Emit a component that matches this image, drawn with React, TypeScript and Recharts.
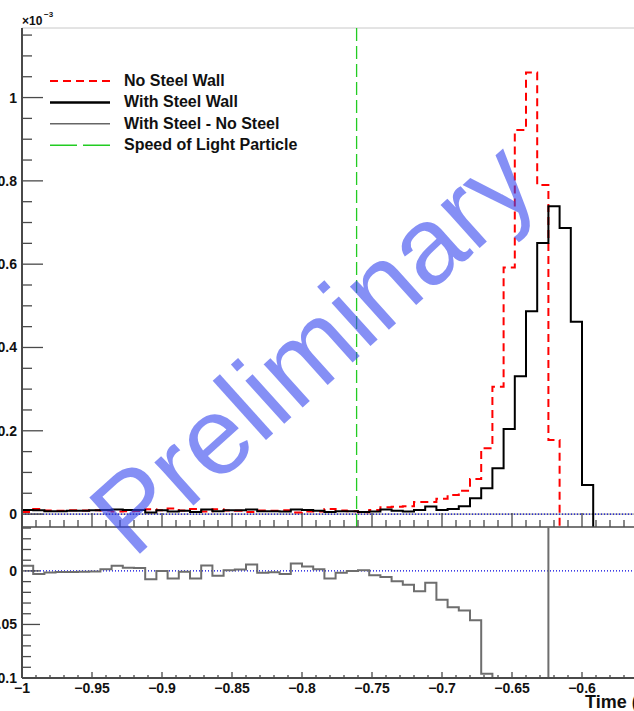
import React from "react";
import { ComposedChart, Line, XAxis, YAxis, ReferenceLine } from "recharts";

// low edge of each 0.008 bin
const BIN_EDGES = [
  -1, -0.992, -0.984, -0.976, -0.968, -0.96, -0.952, -0.944, -0.936, -0.928,
  -0.92, -0.912, -0.904, -0.896, -0.888, -0.88, -0.872, -0.864, -0.856, -0.848,
  -0.84, -0.832, -0.824, -0.816, -0.808, -0.8, -0.792, -0.784, -0.776, -0.768,
  -0.76, -0.752, -0.744, -0.736, -0.728, -0.72, -0.712, -0.704, -0.696, -0.688,
  -0.68, -0.672, -0.664, -0.656, -0.648, -0.64, -0.632, -0.624, -0.616, -0.608,
  -0.6, -0.592,
];

// x10^-3
const WITH_STEEL = [
  0.01, 0.009, 0.007, 0.007, 0.008, 0.008, 0.009, 0.01, 0.011, 0.01,
  0.01, 0.004, 0.009, 0.006, 0.008, 0.005, 0.011, 0.007, 0.009, 0.009,
  0.011, 0.007, 0.007, 0.006, 0.011, 0.01, 0.008, 0.005, 0.007, 0.007,
  0.005, 0.006, 0.011, 0.008, 0.006, 0.01, 0.018, 0.01, 0.012, 0.019,
  0.038, 0.062, 0.11, 0.204, 0.331, 0.487, 0.651, 0.739, 0.687, 0.462,
  0.07,
];

const NO_STEEL = [
  0.0053, 0.012, 0.0085, 0.008, 0.009, 0.0088, 0.0095, 0.0084, 0.0063, 0.007,
  0.0072, 0.0118, 0.009, 0.0132, 0.0088, 0.0122, 0.006, 0.0115, 0.0084, 0.0078,
  0.005, 0.0088, 0.0082, 0.009, 0.004, 0.006, 0.0065, 0.0122, 0.0088, 0.007,
  0.0045, 0.01, 0.0166, 0.0177, 0.019, 0.029, 0.029, 0.037, 0.046, 0.056,
  0.084, 0.158, 0.306, 0.592, 0.922, 1.06, 0.79, 0.178,
];

// With Steel - No Steel (lower pad)
const DIFF = [
  0.0047, -0.003, -0.0015, -0.001, -0.001, -0.0008, -0.0005, 0.0016, 0.0047, 0.003,
  0.0028, -0.0078, 0.0, -0.0072, -0.0008, -0.0072, 0.005, -0.0045, 0.0006, 0.0012,
  0.006, -0.0018, -0.0012, -0.003, 0.007, 0.004, 0.0015, -0.0072, -0.0018, 0.0,
  0.0005, -0.004, -0.0056, -0.0097, -0.013, -0.019, -0.011, -0.027, -0.034, -0.037,
  -0.046, -0.096, -0.196, -0.388, -0.591, -0.573, -0.139, 0.561,
];

const LIGHT_SPEED_T = -0.761;

const X_MAJOR = [-1, -0.95, -0.9, -0.85, -0.8, -0.75, -0.7, -0.65, -0.6, -0.55, -0.5];
const UP_Y_MAJOR = [0, 0.2, 0.4, 0.6, 0.8, 1];
const LO_Y_MAJOR = [0, -0.05, -0.1];

const X_DOMAIN = [-1, -0.5];
const UP_DOMAIN = [-0.031, 1.167];
const LO_DOMAIN = [-0.1, 0.041];

// minor ticks: split each major step
const subdivide = (major: number[], n: number) => {
  const out: number[] = [];
  for (let i = 0; i < major.length - 1; i++) {
    const step = (major[i + 1] - major[i]) / n;
    for (let j = 0; j < n; j++) out.push(+(major[i] + j * step).toFixed(4));
  }
  out.push(major[major.length - 1]);
  return out;
};

const X_TICKS = subdivide(X_MAJOR, 5);
const UP_Y_TICKS = [...subdivide(UP_Y_MAJOR, 4), 1.05, 1.1, 1.15];
const LO_Y_TICKS = [0.04, 0.03, 0.02, 0.01, ...subdivide(LO_Y_MAJOR, 5)];

const rows = BIN_EDGES.map((x, i) => ({
  x,
  black: i < WITH_STEEL.length ? WITH_STEEL[i] : i === WITH_STEEL.length ? UP_DOMAIN[0] : null,
  red: i < NO_STEEL.length ? NO_STEEL[i] : i === NO_STEEL.length ? UP_DOMAIN[0] : null,
  diff: i < DIFF.length ? DIFF[i] : null,
}));

const FONT = "'Liberation Sans', Arial, Helvetica, sans-serif";
const AXIS = "#4a4a4a";

const isIn = (v: number, list: number[]) => list.some((m) => Math.abs(m - v) < 1e-6);
const fmt = (v: number) => (Math.abs(v) < 1e-9 ? "0" : (v < 0 ? "\u2212" : "") + String(+Math.abs(v).toFixed(3)));

const upperXTick = (p: any) => {
  const major = isIn(p.payload.value, X_MAJOR);
  return <line x1={p.x} x2={p.x} y1={p.y} y2={p.y - (major ? 14 : 7)} stroke={AXIS} strokeWidth={1.3} />;
};

const lowerXTick = (p: any) => {
  const v = p.payload.value;
  const major = isIn(v, X_MAJOR);
  return (
    <g>
      <line x1={p.x} x2={p.x} y1={p.y} y2={p.y - (major ? 6 : 3)} stroke={AXIS} strokeWidth={1.3} />
      {major && (
        <text x={p.x} y={p.y + 15} textAnchor="middle" fontFamily={FONT} fontWeight="bold" fontSize={14} fill="#111">
          {fmt(v)}
        </text>
      )}
    </g>
  );
};

const yTick = (majors: number[], big: number, small: number) => (p: any) => {
  const v = p.payload.value;
  const major = isIn(v, majors);
  return (
    <g>
      <line x1={p.x} x2={p.x + (major ? big : small)} y1={p.y} y2={p.y} stroke={AXIS} strokeWidth={1.3} />
      {major && (
        <text x={p.x - 5} y={p.y + 5} textAnchor="end" fontFamily={FONT} fontWeight="bold" fontSize={14} fill="#111">
          {fmt(v)}
        </text>
      )}
    </g>
  );
};

const legend = [
  { label: "No Steel Wall", stroke: "#ff0000", width: 2, dash: "8 5" },
  { label: "With Steel Wall", stroke: "#000000", width: 2.5, dash: undefined },
  { label: "With Steel - No Steel", stroke: "#666666", width: 1.6, dash: undefined },
  { label: "Speed of Light Particle", stroke: "#22cc22", width: 1.4, dash: "27 6" },
];

export default function App() {
  return (
    <div style={{ position: "absolute", left: 0, top: 0, width: 634, height: 711, overflow: "hidden", background: "#fff" }}>
      {/* upper pad */}
      <div style={{ position: "absolute", left: 0, top: 0 }}>
        <ComposedChart width={722} height={540} data={rows} margin={{ top: 28, right: 0, bottom: 0, left: 0 }}>
          <XAxis
            type="number"
            dataKey="x"
            domain={X_DOMAIN}
            allowDataOverflow
            ticks={X_TICKS}
            interval={0}
            height={13}
            tickSize={0}
            tickMargin={0}
            tickLine={false}
            axisLine={{ stroke: AXIS, strokeWidth: 1.5 }}
            tick={upperXTick}
          />
          <YAxis
            type="number"
            domain={UP_DOMAIN}
            allowDataOverflow
            ticks={UP_Y_TICKS}
            interval={0}
            width={22}
            tickSize={0}
            tickMargin={0}
            tickLine={false}
            axisLine={{ stroke: AXIS, strokeWidth: 2 }}
            tick={yTick(UP_Y_MAJOR, 21, 10)}
          />
          <ReferenceLine y={UP_DOMAIN[1]} stroke="#c8c8c8" strokeWidth={1} />
          <ReferenceLine y={0} stroke="#8a8a8a" strokeWidth={1} />
          <ReferenceLine y={0} stroke="#0000dd" strokeWidth={1.2} strokeDasharray="1 2" />
          <ReferenceLine x={LIGHT_SPEED_T} stroke="#22cc22" strokeWidth={1.3} strokeDasharray="13 5" />
          <Line dataKey="red" type="stepAfter" stroke="#ff0000" strokeWidth={2} strokeDasharray="8 5" dot={false} isAnimationActive={false} />
          <Line dataKey="black" type="stepAfter" stroke="#000000" strokeWidth={2} dot={false} isAnimationActive={false} />
        </ComposedChart>
      </div>

      {/* lower pad */}
      <div style={{ position: "absolute", left: 0, top: 0 }}>
        <ComposedChart width={722} height={711} data={rows} margin={{ top: 527, right: 0, bottom: 0, left: 0 }}>
          <XAxis
            type="number"
            dataKey="x"
            domain={X_DOMAIN}
            allowDataOverflow
            ticks={X_TICKS}
            interval={0}
            height={33}
            tickSize={0}
            tickMargin={0}
            tickLine={false}
            axisLine={{ stroke: AXIS, strokeWidth: 2 }}
            tick={lowerXTick}
          />
          <YAxis
            type="number"
            domain={LO_DOMAIN}
            allowDataOverflow
            ticks={LO_Y_TICKS}
            interval={0}
            width={22}
            tickSize={0}
            tickMargin={0}
            tickLine={false}
            axisLine={{ stroke: AXIS, strokeWidth: 2 }}
            tick={yTick(LO_Y_MAJOR, 18, 9)}
          />
          <ReferenceLine y={0} stroke="#0000dd" strokeWidth={1.2} strokeDasharray="1 2" />
          <Line dataKey="diff" type="stepAfter" stroke="#6e6e6e" strokeWidth={2} dot={false} isAnimationActive={false} />
        </ComposedChart>
      </div>

      {/* texts on top */}
      <svg width={634} height={711} style={{ position: "absolute", left: 0, top: 0, pointerEvents: "none" }}>
        <text x={22} y={25} fontFamily={FONT} fontWeight="bold" fontSize={12} fill="#111">
          ×10
        </text>
        <text x={44} y={17} fontFamily={FONT} fontWeight="bold" fontSize={8} fill="#111">
          −3
        </text>
        {legend.map((l, i) => {
          const y = 81 + i * 21.4;
          return (
            <g key={l.label}>
              <line x1={50} x2={110} y1={y} y2={y} stroke={l.stroke} strokeWidth={l.width} strokeDasharray={l.dash} />
              <text x={124} y={y + 5} fontFamily={FONT} fontWeight="bold" fontSize={16} fill="#111">
                {l.label}
              </text>
            </g>
          );
        })}
        <text x={585} y={708} fontFamily={FONT} fontWeight="bold" fontSize={18} fill="#111">
          Time (ns)
        </text>
        <text
          x={312}
          y={347}
          transform="rotate(-42 312 347)"
          textAnchor="middle"
          dominantBaseline="central"
          fontFamily={FONT}
          fontSize={110}
          fill="#3344ee"
          fillOpacity={0.6}
        >
          Preliminary
        </text>
      </svg>
    </div>
  );
}
